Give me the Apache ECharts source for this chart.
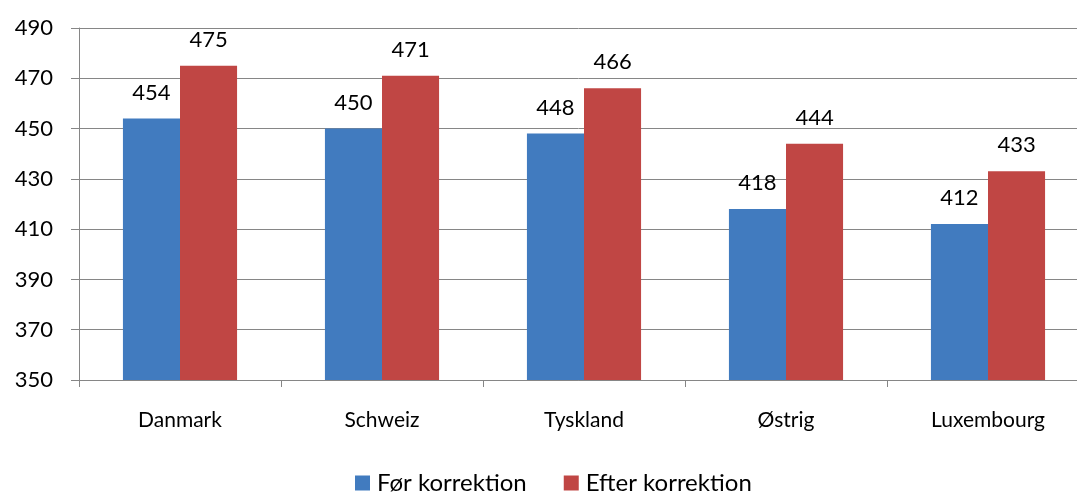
<!DOCTYPE html>
<html>
<head>
<meta charset="utf-8">
<script src="https://cdn.jsdelivr.net/npm/echarts@6/dist/echarts.min.js"></script>
<style>
  html, body { margin: 0; padding: 0; background: #fff; }
  #chart { width: 1077px; height: 495px; }
</style>
</head>
<body>
<div id="chart"></div>
<script>
const countries = ['Danmark', 'Schweiz', 'Tyskland', 'Østrig', 'Luxembourg']
const foer = [454, 450, 448, 418, 412]
const efter = [475, 471, 466, 444, 433]
const seriesNames = ['Før korrektion', 'Efter korrektion']

const font = 'Lato, "Open Sans", sans-serif'
const chart = echarts.init(document.getElementById('chart'))

chart.setOption({
  animation: false,
  textStyle: { fontFamily: font },
  legend: {
    top: 466,
    left: 350,
    itemWidth: 15,
    itemHeight: 15,
    itemGap: 37,
    icon: 'rect',
    textStyle: { fontSize: 24, color: '#000', fontFamily: font, padding: [0, 0, 0, 2] },
    data: seriesNames
  },
  grid: { left: 79, right: -12, top: 28, bottom: 115, outerBoundsMode: 'none', containLabel: false },
  xAxis: {
    type: 'category',
    data: countries,
    axisLine: { lineStyle: { color: '#868686', width: 1 } },
    axisTick: { show: true, length: 7, lineStyle: { color: '#868686' } },
    axisLabel: { fontSize: 21, color: '#000', margin: 30, fontFamily: font }
  },
  yAxis: {
    type: 'value',
    min: 350,
    max: 490,
    interval: 20,
    axisLine: { show: true, lineStyle: { color: '#868686' } },
    axisTick: { show: true, length: 8, lineStyle: { color: '#868686' } },
    axisLabel: { fontSize: 22, color: '#000', margin: 26, fontFamily: font },
    splitLine: { lineStyle: { color: '#868686', width: 1 } }
  },
  series: [
    {
      name: seriesNames[0],
      type: 'bar',
      data: foer,
      barGap: '0%',
      barCategoryGap: '43.5%',
      itemStyle: { color: '#417BBF' },
      label: { show: true, position: 'top', distance: 15, fontSize: 22, color: '#000', fontFamily: font }
    },
    {
      name: seriesNames[1],
      type: 'bar',
      data: efter,
      barGap: '0%',
      barCategoryGap: '43.5%',
      itemStyle: { color: '#C04644' },
      label: { show: true, position: 'top', distance: 15, fontSize: 22, color: '#000', fontFamily: font }
    }
  ]
})
</script>
</body>
</html>
